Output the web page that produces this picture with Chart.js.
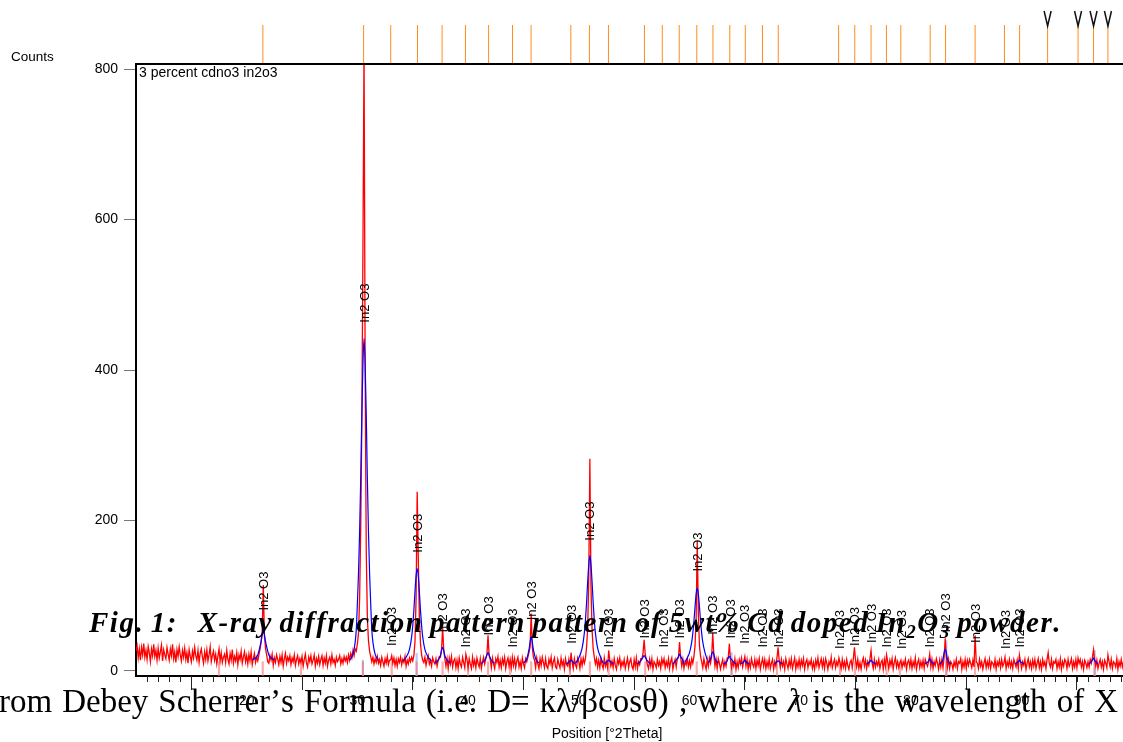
<!DOCTYPE html>
<html>
<head>
<meta charset="utf-8">
<title>XRD pattern - 3 percent cdno3 in2o3</title>
<script src="https://cdn.jsdelivr.net/npm/chart.js@4"></script>
<style>
  body { margin: 0; background: #fff; }
  #chart-container { position: relative; width: 1123px; height: 742px; overflow: hidden; }
</style>
</head>
<body>
<div id="chart-container"><canvas id="xrdChart"></canvas></div>
<script>
// --- Observed pattern (red): counts from 10 °2Theta, one value every 0.1 ° ---
const obsStart = 10;
const obsStep = 0.1;
const obsCounts = [
  26,33,17,29,14,31,21,36,18,27,  15,32,24,12,29,20,35,19,27,14,
  30,17,25,34,13,28,21,16,31,22,  14,29,20,35,16,25,11,28,19,32,
  21,13,27,18,30,15,24,10,28,19,  12,26,17,31,20,14,27,11,23,29,
  18,10,25,15,28,13,21,32,12,20,  26,14,22,9,19,29,13,24,11,18,
  22,11,27,15,9,23,14,28,10,19,   13,24,8,21,15,26,10,18,25,12,
  20,9,22,13,25,8,16,23,11,18,    13,21,28,38,52,114,47,30,21,12,
  10,20,14,22,7,17,11,21,15,8,    19,11,21,6,16,23,10,18,13,20,
  8,17,12,21,7,15,20,9,16,11,     19,6,15,22,10,5,18,12,20,9,
  14,21,6,16,10,19,8,15,20,7,     17,10,20,6,14,18,9,21,11,15,
  7,18,12,15,20,9,16,10,19,13,    18,11,21,14,23,17,27,20,29,26,
  36,50,96,190,330,560,830,400,160,70,  40,26,19,12,18,9,16,11,19,10,
  15,7,18,12,6,16,10,19,8,14,     14,20,10,17,7,15,6,16,11,18,
  8,15,11,19,6,14,9,17,12,18,     13,20,38,95,238,150,70,36,21,14,
  11,18,7,15,20,9,14,6,17,12,     9,16,6,14,19,18,28,57,27,16,
  6,16,3,17,9,19,5,13,16,4,       14,3,17,9,5,18,11,4,22,15,
  4,16,9,3,18,7,14,4,17,10,       5,16,3,12,18,9,16,22,47,20,
  15,4,17,9,3,16,11,19,5,14,      4,16,9,18,3,12,17,6,15,4,
  18,7,16,4,13,18,5,12,3,17,      9,4,16,12,18,24,32,76,31,18,
  14,4,17,9,3,16,7,18,11,4,       16,6,3,15,9,18,4,12,17,5,
  3,15,9,4,17,7,13,2,16,8,        6,15,4,24,11,3,16,8,4,17,
  12,3,16,7,17,10,16,31,56,122,   282,112,54,29,18,9,16,5,14,4,
  16,8,3,17,6,12,4,27,14,6,       13,4,16,7,2,15,9,17,4,12,
  7,15,3,10,17,4,12,16,6,2,       15,5,17,3,12,8,16,16,23,41,
  22,15,8,3,15,6,16,2,12,9,       4,15,7,12,3,16,9,16,4,12,
  6,16,3,12,17,2,10,15,5,16,      17,38,18,6,15,3,12,8,16,5,
  13,5,16,10,19,33,71,173,76,33,  19,12,4,16,8,2,15,6,17,10,
  19,50,21,6,15,3,16,10,2,9,      15,4,12,6,17,17,36,15,4,12,
  6,16,2,12,4,15,9,17,5,12,       19,6,15,2,12,4,16,9,5,15,
  3,14,7,16,2,10,16,6,15,3,       12,5,16,3,10,15,2,12,6,17,
  31,14,4,15,6,12,2,16,9,3,       14,6,16,3,10,17,2,12,5,15,
  4,14,7,16,2,11,15,4,12,8,       15,3,11,2,14,7,17,4,10,16,
  5,14,3,16,10,2,12,7,18,4,       10,15,4,12,7,17,10,3,15,5,
  12,3,15,7,2,11,14,4,16,31,      14,5,15,3,11,2,12,17,6,14,
  3,12,7,16,27,10,3,15,5,12,      7,15,3,11,14,2,15,6,21,12,
  3,14,7,16,2,11,17,5,12,4,       10,14,4,12,7,15,2,11,14,5,
  15,3,12,6,17,2,10,15,4,12,      5,14,3,15,10,6,12,22,5,15,
  3,12,7,16,10,2,14,5,15,4,       18,43,19,5,15,3,12,9,2,12,
  6,15,3,12,10,16,2,12,5,15,      3,14,7,15,10,4,14,5,47,12,
  10,3,15,6,12,2,10,16,4,12,      5,15,3,12,10,5,15,2,12,7,
  14,4,15,6,10,18,3,12,6,15,      5,12,3,15,10,5,14,3,21,12,
  3,12,7,15,2,10,16,5,12,3,       14,6,15,3,10,16,4,12,2,15,
  7,12,3,15,24,10,5,15,3,12,      10,15,3,12,5,16,2,12,6,15,
  12,3,15,6,10,16,3,12,5,15,      4,17,10,15,5,12,2,14,10,4,
  12,5,15,10,18,28,14,6,14,3,     10,15,5,12,2,14,10,4,21,12,
  5,15,3,12,10,5,16,2,12,6,       15,5,12
];

// --- Calculated profile (blue): [2Theta, counts], null breaks between peaks ---
const calcPoints = [
  [20.5,15],[20.8,17],[21.0,21],[21.2,32],[21.3,39],[21.4,48],[21.5,60],[21.6,48],[21.7,39],[21.8,32],[22.0,21],[22.2,17],[22.5,15], [22.6,null],
  [29.3,14],[29.6,22],[29.8,38],[29.9,55],[30.0,90],[30.1,130],[30.2,185],[30.3,255],[30.4,340],[30.5,408],[30.6,442],
  [30.7,408],[30.8,340],[30.9,255],[31.0,185],[31.1,130],[31.2,90],[31.3,55],[31.4,38],[31.6,22],[31.9,14], [32.0,null],
  [34.1,13],[34.4,18],[34.7,28],[34.9,45],[35.0,60],[35.1,80],[35.2,105],[35.3,126],[35.4,136],[35.5,126],[35.6,105],[35.7,80],[35.8,60],[35.9,45],[36.1,28],[36.4,18],[36.7,13], [36.8,null],
  [37.0,10],[37.3,14],[37.5,20],[37.6,27],[37.7,31],[37.8,27],[37.9,20],[38.1,14],[38.4,10], [38.5,null],
  [41.2,10],[41.5,14],[41.7,21],[41.8,24],[41.9,21],[42.1,14],[42.4,10], [42.5,null],
  [45.0,10],[45.3,16],[45.5,28],[45.6,38],[45.7,45],[45.8,38],[45.9,28],[46.1,16],[46.4,10], [46.5,null],
  [48.9,9],[49.2,13],[49.3,14],[49.4,13],[49.6,9], [49.65,null],
  [49.7,10],[50.0,17],[50.3,30],[50.5,50],[50.6,67],[50.7,90],[50.8,118],[50.9,141],[51.0,153],[51.1,141],[51.2,118],[51.3,90],[51.4,67],[51.5,50],[51.7,30],[52.0,17],[52.2,10], [52.25,null],
  [52.3,9],[52.6,13],[52.7,14],[52.8,13],[53.1,9], [53.2,null],
  [55.3,9],[55.6,13],[55.8,18],[55.9,20],[56.0,18],[56.2,13],[56.5,9], [56.6,null],
  [58.5,9],[58.8,14],[59.0,19],[59.1,22],[59.2,19],[59.4,14],[59.5,9], [59.55,null],
  [59.6,12],[59.8,17],[60.0,24],[60.2,38],[60.3,50],[60.4,66],[60.5,85],[60.6,102],[60.7,110],[60.8,102],[60.9,85],[61.0,66],[61.1,50],[61.2,38],[61.4,24],[61.6,15], [61.65,null],
  [61.7,11],[61.9,16],[62.0,22],[62.1,25],[62.2,22],[62.3,16],[62.6,10], [62.7,null],
  [63.1,9],[63.4,13],[63.5,17],[63.6,19],[63.7,17],[63.9,13],[64.2,9], [64.3,null],
  [64.6,9],[64.9,12],[65.0,14],[65.1,12],[65.4,9], [65.5,null],
  [67.7,9],[67.9,12],[68.0,13],[68.1,12],[68.4,9], [68.5,null],
  [76.0,9],[76.3,12],[76.4,14],[76.5,12],[76.8,9], [76.9,null],
  [81.3,9],[81.6,13],[81.7,16],[81.8,13],[82.1,9], [82.2,null],
  [82.6,9],[82.9,15],[83.0,24],[83.1,28],[83.2,24],[83.3,15],[83.6,9], [83.7,null],
  [89.4,9],[89.7,12],[89.8,14],[89.9,12],[90.2,9], [90.3,null],
  [96.1,9],[96.4,14],[96.5,17],[96.6,14],[96.9,9]
];

// --- Faint sticks at the foot of the pattern ---
const pinkStickPos = [17.5, 21.45, 24.9, 30.5, 33.1, 35.35, 37.7, 40.0, 41.8, 43.8, 45.7, 49.2, 51.0, 52.7, 56.0, 60.65, 63.8, 67.9, 73.6, 74.95, 77.8, 79.0, 83.2, 85.8, 96.6];
const pinkStickTop = 12;
const blueStickPos = [30.5, 35.35, 63.8, 83.2, 96.6];
const blueStickTop = [14, 23, 24, 40, 27];

// --- Reference pattern positions (orange lines above the plot) ---
const refPos = [21.46, 30.56, 33.01, 35.43, 37.65, 39.76, 41.85, 44.01, 45.69, 49.28, 50.96, 52.68,
  55.93, 57.54, 59.07, 60.66, 62.12, 63.64, 65.04, 66.59, 68.02, 73.47, 74.93, 76.40, 77.79,
  79.09, 81.74, 83.13, 85.80, 88.45, 89.82, 92.35, 95.10, 96.50, 97.80];
const flagPos = [92.35, 95.10, 96.50, 97.80];

// --- Peak labels: position and the count where the label starts ---
const labelPos  = [21.5, 30.6, 33.1, 35.4, 37.7, 39.8, 41.8, 44.0, 45.7, 49.3, 51.0, 52.7, 55.9, 57.6, 59.1, 60.7,
  62.1, 63.7, 65.0, 66.6, 68.0, 73.5, 74.9, 76.4, 77.8, 79.1, 81.7, 83.1, 85.8, 88.5, 89.8];
const labelBase = [80, 463, 33, 157, 51, 31, 47, 31, 67, 36, 173, 31, 43, 31, 43, 132,
  48, 43, 36, 31, 31, 29, 33, 37, 31, 29, 31, 51, 37, 29, 31];
const labelText = 'In2 O3';

// --- Axis ticks ---
const xMajorTicks = [10, 20, 30, 40, 50, 60, 70, 80, 90];
const yTicks = [0, 200, 400, 600, 800];

// --- Document text that lies over the figure ---
const captionWords = ['Fig.', '1:', '', '', 'X-ray', 'diffraction', 'pattern', 'pattern', 'of', '5wt%', 'Cd', 'doped', 'In_2O_3', 'powder.'];
const bodyWords = ['rom', 'Debey', 'Scherrer’s', 'Formula', '(i.e.', 'D=', 'kλ/βcosθ)', ',', 'where', '~λ', 'is', 'the', 'wavelength', 'of', 'X'];

const SANS = '"Liberation Sans", Arial, sans-serif';
const SERIF = '"Liberation Serif", "Times New Roman", serif';

// --- Build the datasets the library needs ---
const obsData = obsCounts.map((c, i) => ({ x: +(obsStart + i * obsStep).toFixed(2), y: c }));
const pinkData = pinkStickPos.map(p => ({ x: p, y: [-7, pinkStickTop] }));
const blueStickData = blueStickPos.map((p, i) => ({ x: p, y: [-7, blueStickTop[i]] }));

// --- Helpers for the overlaid document text ---
function fontOf(s) {
  return `${s.style} ${s.weight} ${s.size}px ${SERIF}`;
}

function splitRuns(word) {
  let italic = false;
  let s = word;
  if (s.startsWith('~')) { italic = true; s = s.slice(1); }
  const runs = [];
  let buf = '';
  for (let i = 0; i < s.length; i++) {
    if (s[i] === '_') {
      if (buf) runs.push({ t: buf, sub: false });
      buf = '';
      runs.push({ t: s[i + 1], sub: true });
      i++;
    } else {
      buf += s[i];
    }
  }
  if (buf) runs.push({ t: buf, sub: false });
  return { italic, runs };
}

function runFont(base, italic, sub) {
  return fontOf({
    style: italic ? 'italic' : base.style,
    weight: base.weight,
    size: sub ? Math.round(base.size * 0.65) : base.size
  });
}

// width of one word, with extra spacing after each letter
function wordWidth(ctx, word, base, ls) {
  const w = splitRuns(word);
  let width = 0;
  w.runs.forEach(r => {
    ctx.font = runFont(base, w.italic, r.sub);
    for (const ch of r.t) width += ctx.measureText(ch).width + ls;
  });
  return width;
}

function drawJustified(ctx, words, x0, x1, y, base, ls) {
  ctx.font = fontOf(base);
  const space = ctx.measureText(' ').width;
  const widths = words.map(w => wordWidth(ctx, w, base, ls));
  const natural = widths.reduce((a, b) => a + b, 0) + space * (words.length - 1);
  const extra = (x1 - x0 - natural) / (words.length - 1);
  let x = x0;
  ctx.fillStyle = '#000';
  ctx.textAlign = 'left';
  ctx.textBaseline = 'alphabetic';
  words.forEach((word, i) => {
    const w = splitRuns(word);
    let cx = x;
    w.runs.forEach(r => {
      ctx.font = runFont(base, w.italic, r.sub);
      for (const ch of r.t) {
        ctx.fillText(ch, cx, r.sub ? y + base.size * 0.22 : y);
        cx += ctx.measureText(ch).width + ls;
      }
    });
    x += widths[i] + space + extra;
  });
}

// --- Plugin: reference lines, labels, minor ticks and page text ---
const xrdDecorations = {
  id: 'xrdDecorations',
  afterDatasetsDraw(chart) {
    const { ctx, scales: { x, y } } = chart;
    ctx.save();
    ctx.fillStyle = '#000';
    ctx.font = `13px ${SANS}`;
    ctx.textAlign = 'left';
    ctx.textBaseline = 'middle';
    labelPos.forEach((p, i) => {
      ctx.save();
      ctx.translate(x.getPixelForValue(p) + 1, y.getPixelForValue(labelBase[i]));
      ctx.rotate(-Math.PI / 2);
      ctx.fillText(labelText, 0, 0);
      ctx.restore();
    });
    ctx.restore();
  },
  afterDraw(chart) {
    const { ctx, chartArea, scales: { x } } = chart;
    ctx.save();

    // top frame line
    ctx.strokeStyle = '#000';
    ctx.lineWidth = 2;
    ctx.beginPath();
    ctx.moveTo(chartArea.left, chartArea.top);
    ctx.lineTo(chartArea.right, chartArea.top);
    ctx.stroke();

    // minor ticks every degree
    ctx.lineWidth = 1;
    ctx.strokeStyle = '#222';
    for (let v = Math.ceil(x.min); v <= x.max; v++) {
      if (xMajorTicks.includes(v)) continue;
      const px = Math.round(x.getPixelForValue(v)) + 0.5;
      ctx.beginPath();
      ctx.moveTo(px, chartArea.bottom);
      ctx.lineTo(px, chartArea.bottom + 6);
      ctx.stroke();
    }

    // reference pattern lines above the frame
    ctx.strokeStyle = '#ff8c1a';
    refPos.forEach(p => {
      const px = x.getPixelForValue(p);
      ctx.beginPath();
      ctx.moveTo(px, 25);
      ctx.lineTo(px, chartArea.top - 1);
      ctx.stroke();
    });

    // flags on the last reference lines
    ctx.strokeStyle = '#111';
    ctx.lineWidth = 1.5;
    flagPos.forEach(p => {
      const px = x.getPixelForValue(p);
      ctx.beginPath();
      ctx.moveTo(px - 3.5, 11);
      ctx.lineTo(px, 26);
      ctx.lineTo(px + 3.5, 11);
      ctx.stroke();
    });

    // axis captions
    ctx.fillStyle = '#000';
    ctx.textBaseline = 'middle';
    ctx.textAlign = 'left';
    ctx.font = `13.5px ${SANS}`;
    ctx.fillText('Counts', 11, 57);
    ctx.font = `14px ${SANS}`;
    ctx.fillText('3 percent cdno3 in2o3', 139, 73);
    ctx.textAlign = 'center';
    ctx.fillText('Position [°2Theta]', 607, 734);

    // document text printed over the figure
    drawJustified(ctx, captionWords, 89, 1062, 632, { style: 'italic', weight: 'bold', size: 29 }, 1.5);
    drawJustified(ctx, bodyWords, -1, 1118, 712, { style: 'normal', weight: 'normal', size: 33 }, 0);

    ctx.restore();
  }
};

// --- Create the chart ---
const chartCanvas = document.getElementById('xrdChart');
new Chart(chartCanvas.getContext('2d'), {
  type: 'line',
  data: {
    datasets: [
      {
        label: 'Calculated',
        data: calcPoints,
        borderColor: '#0000ff',
        borderWidth: 1.2,
        pointRadius: 0,
        cubicInterpolationMode: 'monotone',
        spanGaps: false,
        order: 0
      },
      {
        label: 'Observed',
        data: obsData,
        borderColor: '#ff0000',
        borderWidth: 1.3,
        pointRadius: 0,
        tension: 0,
        order: 1
      },
      {
        type: 'bar',
        label: 'Pink sticks',
        data: pinkData,
        backgroundColor: 'rgba(255, 110, 110, 0.6)',
        barThickness: 1.5,
        grouped: false,
        order: 2
      },
      {
        type: 'bar',
        label: 'Blue sticks',
        data: blueStickData,
        backgroundColor: 'rgba(140, 180, 255, 0.7)',
        barThickness: 1.5,
        grouped: false,
        order: 2
      }
    ]
  },
  options: {
    responsive: true,
    maintainAspectRatio: false,
    animation: false,
    events: [],
    layout: { padding: { top: 64, left: 0, right: 0, bottom: 0 } },
    plugins: {
      legend: { display: false },
      tooltip: { enabled: false }
    },
    scales: {
      x: {
        type: 'linear',
        min: 10,
        max: 99.16,
        offset: false,
        border: { color: '#000', width: 2 },
        grid: {
          drawOnChartArea: false,
          tickLength: 14,
          tickColor: ctx => (ctx.tick && ctx.tick.value === 10) ? 'rgba(0,0,0,0)' : '#222'
        },
        ticks: {
          autoSkip: false,
          maxRotation: 0,
          padding: 3,
          color: '#000',
          font: { family: SANS, size: 14 },
          callback: v => (v === 10 ? '' : String(v))
        },
        afterBuildTicks(scale) { scale.ticks = xMajorTicks.map(v => ({ value: v })); },
        afterFit(scale) { scale.height = 66; }
      },
      y: {
        type: 'linear',
        min: -7,
        max: 807,
        border: { color: '#000', width: 2 },
        grid: { drawOnChartArea: false, tickLength: 12, tickColor: '#777' },
        ticks: {
          padding: 6,
          color: '#000',
          font: { family: SANS, size: 14 }
        },
        afterBuildTicks(scale) { scale.ticks = yTicks.map(v => ({ value: v })); },
        afterFit(scale) { scale.width = 136; }
      }
    }
  },
  plugins: [xrdDecorations]
});
</script>
</body>
</html>
